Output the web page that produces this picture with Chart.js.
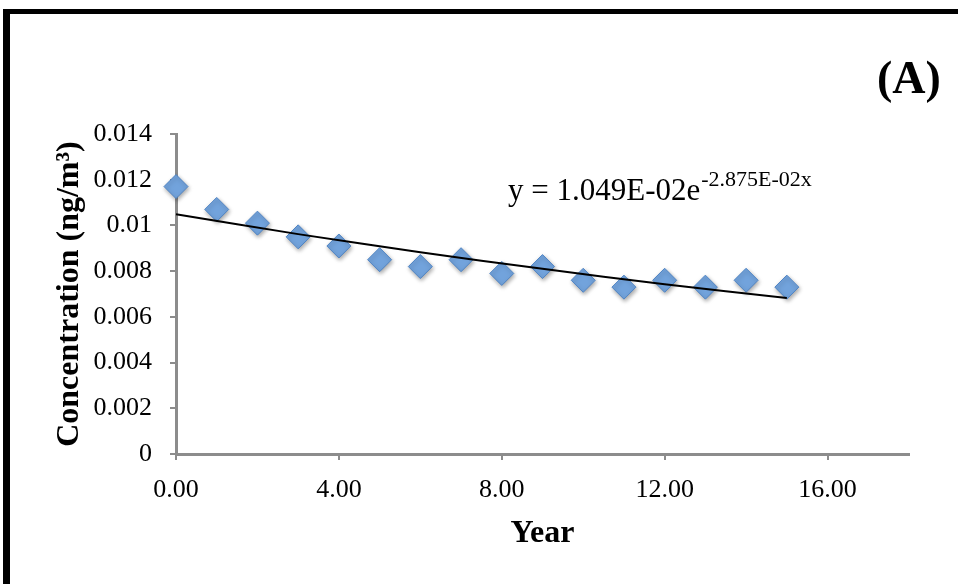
<!DOCTYPE html>
<html lang="en">

<head>
    <meta charset="utf-8">
    <title>Concentration (A)</title>
    <script src="https://cdn.jsdelivr.net/npm/chart.js@4/dist/chart.umd.min.js"></script>
    <style>
        body { margin: 0; background: #fff; }
        #wrap { position: relative; width: 958px; height: 584px; overflow: hidden; }
        #frame {
            position: absolute; left: 3px; top: 9px; width: 1000px; height: 700px;
            border-left: 7px solid #000; border-top: 5px solid #000;
        }
        #chart { position: absolute; left: 0; top: 0; }
    </style>
</head>

<body>
    <div id="wrap">
        <div id="frame"></div>
        <canvas id="chart" width="958" height="584"></canvas>
    </div>
    <script>
        // measured points
        const years = [0, 1, 2, 3, 4, 5, 6, 7, 8, 9, 10, 11, 12, 13, 14, 15];
        const concentration = [0.0117, 0.0107, 0.0101, 0.0095, 0.0091, 0.0085, 0.0082, 0.0085,
            0.0079, 0.0082, 0.0076, 0.0073, 0.0076, 0.0073, 0.0076, 0.0073];

        // exponential trendline, values read at a few years
        const trendYears = [0, 3, 6, 9, 12, 15];
        const trendValues = [0.01049, 0.00962, 0.00883, 0.00810, 0.00743, 0.00682];

        const equationMain = 'y = 1.049E-02e';
        const equationExp = '-2.875E-02x';
        const panelLabel = '(A)';

        const serif = "'Liberation Serif', 'Times New Roman', serif";
        const axisGray = '#8c8c8c';

        const toPoints = (xs, ys) => xs.map((x, i) => ({ x: x, y: ys[i] }));

        // drop shadow under the diamonds, like the original
        const shadowPlugin = {
            id: 'shadow',
            beforeDatasetDraw(chart, args) {
                if (args.index !== 1) return;
                const ctx = chart.ctx;
                ctx.save();
                ctx.shadowColor = 'rgba(0,0,0,0.35)';
                ctx.shadowBlur = 4;
                ctx.shadowOffsetX = 1;
                ctx.shadowOffsetY = 2;
            },
            afterDatasetDraw(chart, args) {
                if (args.index !== 1) return;
                chart.ctx.restore();
            }
        };

        const labelsPlugin = {
            id: 'labels',
            afterDraw(chart) {
                const ctx = chart.ctx;
                ctx.save();
                ctx.fillStyle = '#000';
                ctx.textBaseline = 'alphabetic';
                ctx.textAlign = 'left';
                ctx.font = '31px ' + serif;
                ctx.fillText(equationMain, 508, 200);
                const w = ctx.measureText(equationMain).width;
                ctx.font = '22px ' + serif;
                ctx.fillText(equationExp, 508 + w + 1, 186);
                ctx.font = 'bold 46px ' + serif;
                ctx.fillText(panelLabel, 877, 93);
                ctx.restore();
            }
        };

        new Chart(document.getElementById('chart'), {
            type: 'scatter',
            data: {
                datasets: [{
                    label: 'Trend',
                    data: toPoints(trendYears, trendValues),
                    showLine: true,
                    borderColor: '#000',
                    borderWidth: 2,
                    pointRadius: 0,
                    tension: 0.3,
                    clip: false,
                }, {
                    label: 'Concentration',
                    data: toPoints(years, concentration),
                    pointStyle: 'rectRot',
                    pointRadius: 12,
                    backgroundColor: '#72a3dc',
                    borderColor: '#4f84c4',
                    borderWidth: 1,
                    clip: false,
                }]
            },
            options: {
                responsive: false,
                animation: false,
                events: [],
                layout: { padding: { top: 134, right: 49, left: 0, bottom: 0 } },
                plugins: {
                    legend: { display: false },
                    tooltip: { enabled: false },
                },
                scales: {
                    x: {
                        type: 'linear',
                        min: 0,
                        max: 18,
                        afterFit: (scale) => { scale.height = 130; },
                        border: { color: axisGray, width: 3 },
                        grid: { drawOnChartArea: false, color: axisGray, lineWidth: 2, tickLength: 6 },
                        ticks: {
                            stepSize: 4,
                            includeBounds: false,
                            maxRotation: 0,
                            padding: 15,
                            color: '#000',
                            font: { family: serif, size: 26 },
                            callback: (v) => v.toFixed(2),
                        },
                        title: {
                            display: true,
                            text: 'Year',
                            color: '#000',
                            font: { family: serif, size: 32, weight: 'bold' },
                            padding: { top: 0, bottom: 31 },
                        }
                    },
                    y: {
                        type: 'linear',
                        min: 0,
                        max: 0.014,
                        afterFit: (scale) => { scale.width = 176; },
                        border: { color: axisGray, width: 3 },
                        grid: { drawOnChartArea: false, color: axisGray, lineWidth: 2, tickLength: 6 },
                        ticks: {
                            stepSize: 0.002,
                            padding: 18,
                            color: '#000',
                            font: { family: serif, size: 26 },
                            callback: (v) => String(parseFloat(v.toFixed(3))),
                        },
                        title: {
                            display: true,
                            text: 'Concentration (ng/m³)',
                            color: '#000',
                            font: { family: serif, size: 32, weight: 'bold' },
                            padding: { top: 51, bottom: 0 },
                        }
                    }
                }
            },
            plugins: [shadowPlugin, labelsPlugin]
        });
    </script>
</body>

</html>
